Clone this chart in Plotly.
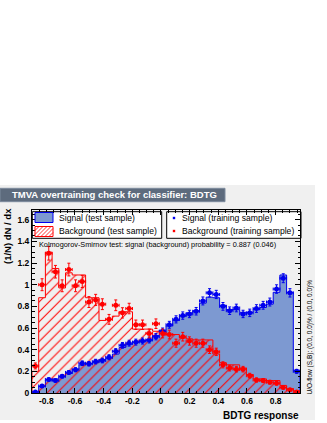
import numpy as np
import plotly.graph_objects as go

# ---------------- data ----------------
X_MIN, X_MAX, N_BINS = -0.9, 0.97, 40
Y_MAX = 1.69

signal_test = [0.01, 0.06, 0.12, 0.13, 0.15, 0.18, 0.22, 0.26, 0.27, 0.28,
               0.31, 0.32, 0.36, 0.42, 0.45, 0.47, 0.48, 0.49, 0.53, 0.58,
               0.62, 0.67, 0.71, 0.74, 0.76, 0.83, 0.885, 0.88, 0.81, 0.77,
               0.77, 0.745, 0.745, 0.77, 0.79, 0.82, 0.93, 1.09, 0.93, 0.21]
background_test = [0.20, 0.88, 1.30, 1.15, 0.97, 1.11, 1.09, 1.09, 0.88, 0.88,
                   0.67, 0.68, 0.71, 0.75, 0.75, 0.59, 0.59, 0.59, 0.57, 0.57,
                   0.54, 0.54, 0.51, 0.50, 0.49, 0.49, 0.49, 0.36, 0.28, 0.26,
                   0.26, 0.23, 0.17, 0.13, 0.13, 0.115, 0.115, 0.07, 0.04, 0.02]
signal_train = [0.01, 0.065, 0.125, 0.115, 0.155, 0.19, 0.215, 0.275, 0.27, 0.29,
                0.30, 0.33, 0.385, 0.44, 0.46, 0.47, 0.48, 0.49, 0.52, 0.57,
                0.63, 0.68, 0.715, 0.73, 0.755, 0.85, 0.925, 0.91, 0.80, 0.76,
                0.785, 0.73, 0.74, 0.78, 0.81, 0.84, 0.96, 1.06, 0.925, 0.20]
background_train = [0.25, 1.00, 1.29, 1.12, 0.99, 1.14, 0.99, 1.03, 0.84, 0.86,
                    0.82, 0.68, 0.81, 0.74, 0.78, 0.63, 0.63, 0.55, 0.64, 0.55,
                    0.54, 0.46, 0.52, 0.48, 0.46, 0.46, 0.40, 0.38, 0.26, 0.23,
                    0.22, 0.22, 0.16, 0.12, 0.115, 0.10, 0.09, 0.05, 0.03, 0.01]

# effective entries per unit density (sets statistical error bar size)
N_SIG_EFF = 625.0
N_BKG_EFF = 330.0

ks_signal, ks_background = 0.887, 0.046

x_tick_vals = [-0.8, -0.6, -0.4, -0.2, 0, 0.2, 0.4, 0.6, 0.8]
x_tick_text = ["-0.8", "-0.6", "-0.4", "-0.2", "0", "0.2", "0.4", "0.6", "0.8"]
y_tick_vals = [0, 0.2, 0.4, 0.6, 0.8, 1.0, 1.2, 1.4, 1.6]
y_tick_text = ["0", "0.2", "0.4", "0.6", "0.8", "1", "1.2", "1.4", "1.6"]

# ---------------- style ----------------
C_CANVAS = "#f0f0f0"
C_FRAME = "#fffffd"
C_TITLEBOX = "#5D6B7D"
C_TITLEBORDER = "#7D8B9D"
C_SIG_LINE = "#0000ee"
C_SIG_FILL = "#7d99d1"
C_BKG = "#ff0000"
FONT = "Liberation Sans, Arial, Helvetica, sans-serif"

W, H = 327, 423
ML, MR, MT, MB = 32, 27, 210, 30
PW, PH = W - ML - MR, H - MT - MB


def px(xp):
    return (xp - ML) / PW


def py(yp):
    return (H - MB - yp) / PH


bw = (X_MAX - X_MIN) / N_BINS
edges = X_MIN + bw * np.arange(N_BINS + 1)
centers = edges[:-1] + bw / 2


def step_xy(vals):
    vals = np.asarray(vals, dtype=float)
    xs = np.concatenate([[edges[0]], edges[:-1], [edges[-1], edges[-1]]])
    ys = np.concatenate([[0.0], vals, [vals[-1], 0.0]])
    return xs, ys


fig = go.Figure()

sx, sy = step_xy(signal_test)
fig.add_trace(go.Scatter(x=sx, y=sy, mode="lines", line=dict(color=C_SIG_LINE, width=1, shape="hv"),
                         fill="tozeroy", fillcolor=C_SIG_FILL, showlegend=False, hoverinfo="skip"))
bx, by = step_xy(background_test)
fig.add_trace(go.Scatter(x=bx, y=by, mode="lines", line=dict(color=C_BKG, width=1, shape="hv"),
                         fill="tozeroy", fillcolor=C_BKG,
                         fillpattern=dict(shape="/", fillmode="replace", fgcolor=C_BKG,
                                          bgcolor="rgba(0,0,0,0)", size=7, solidity=0.15),
                         showlegend=False, hoverinfo="skip"))

sig_err = np.sqrt(np.asarray(signal_train) / N_SIG_EFF)
bkg_err = np.sqrt(np.asarray(background_train) / N_BKG_EFF)

fig.add_trace(go.Scatter(x=centers, y=signal_train, mode="markers",
                         marker=dict(color=C_SIG_LINE, size=5, symbol="circle"),
                         error_y=dict(type="data", array=sig_err, color=C_SIG_LINE, thickness=1, width=1.5),
                         error_x=dict(type="constant", value=bw / 2, color=C_SIG_LINE, thickness=1, width=1.5),
                         showlegend=False))
fig.add_trace(go.Scatter(x=centers, y=background_train, mode="markers",
                         marker=dict(color=C_BKG, size=5, symbol="circle"),
                         error_y=dict(type="data", array=bkg_err, color=C_BKG, thickness=1, width=1.5),
                         error_x=dict(type="constant", value=bw / 2, color=C_BKG, thickness=1, width=1.5),
                         showlegend=False))

shapes = []
# canvas
shapes.append(dict(type="rect", xref="paper", yref="paper", layer="below",
                   x0=px(0), x1=px(315), y0=py(420), y1=py(185),
                   fillcolor=C_CANVAS, line=dict(width=0)))
# title box
shapes.append(dict(type="rect", xref="paper", yref="paper", layer="above",
                   x0=px(0), x1=px(225), y0=py(201.7), y1=py(188.3),
                   fillcolor=C_TITLEBOX, line=dict(color=C_TITLEBORDER, width=1)))
# legend boxes
for x0, x1 in [(32.3, 161.7), (166.7, 301)]:
    shapes.append(dict(type="rect", xref="x domain", yref="y domain", layer="below",
                       x0=px(x0), x1=px(x1), y0=py(238.3), y1=py(211.7),
                       fillcolor="white", line=dict(color="black", width=1)))
# legend icons
shapes.append(dict(type="rect", xref="paper", yref="paper", layer="above",
                   x0=px(35), x1=px(53), y0=py(222.5), y1=py(212.5),
                   fillcolor=C_SIG_FILL, line=dict(color=C_SIG_LINE, width=1)))
ix0, ix1, iy0, iy1 = 35.0, 53.0, 226.5, 236.5
hh = iy1 - iy0
segs = []
t = -hh
while t < (ix1 - ix0):
    xa = max(ix0, ix0 + t)
    xb = min(ix1, ix0 + t + hh)
    if xb > xa:
        ya = iy1 - (xa - (ix0 + t))
        yb = iy1 - (xb - (ix0 + t))
        segs.append(f"M {px(xa):.5f} {py(ya):.5f} L {px(xb):.5f} {py(yb):.5f}")
    t += 4.0
shapes.append(dict(type="path", xref="paper", yref="paper", layer="above",
                   path=" ".join(segs), line=dict(color=C_BKG, width=0.8)))
shapes.append(dict(type="rect", xref="paper", yref="paper", layer="above",
                   x0=px(ix0), x1=px(ix1), y0=py(iy1), y1=py(iy0),
                   line=dict(color=C_BKG, width=1)))
for cy, col in [(218, C_SIG_LINE), (231, C_BKG)]:
    shapes.append(dict(type="rect", xref="paper", yref="paper", layer="above",
                       x0=px(172.8), x1=px(175.2), y0=py(cy + 1.2), y1=py(cy - 1.2),
                       fillcolor=col, line=dict(width=0)))

annotations = [
    dict(text="<b>TMVA overtraining check for classifier: BDTG</b>", x=px(10), y=py(195),
         xanchor="left", yanchor="middle", font=dict(family=FONT, size=9.5, color="white")),
    dict(text="Signal (test sample)", x=px(57), y=py(217.5), xanchor="left", yanchor="middle",
         font=dict(family=FONT, size=8.6, color="black")),
    dict(text="Background (test sample)", x=px(57), y=py(231), xanchor="left", yanchor="middle",
         font=dict(family=FONT, size=8.6, color="black")),
    dict(text="Signal (training sample)", x=px(180), y=py(217.5), xanchor="left", yanchor="middle",
         font=dict(family=FONT, size=8.6, color="black")),
    dict(text="Background (training sample)", x=px(180), y=py(231), xanchor="left", yanchor="middle",
         font=dict(family=FONT, size=8.6, color="black")),
    dict(text=f"Kolmogorov-Smirnov test: signal (background) probability = {ks_signal:.3f} ({ks_background:.3f})",
         x=px(37), y=py(244.5), xanchor="left", yanchor="middle",
         font=dict(family=FONT, size=7.3, color="black")),
    dict(text="<b>(1/N) dN / dx</b>", textangle=-90, x=px(7.5), y=py(236.5),
         xanchor="center", yanchor="middle", font=dict(family=FONT, size=9.5, color="black")),
    dict(text="<b>BDTG response</b>", x=px(300.5), y=py(415), xanchor="right", yanchor="middle",
         font=dict(family=FONT, size=10, color="black")),
    dict(text="U/O-flow (S,B): (0.0, 0.0)% / (0.0, 0.0)%", textangle=-90, x=px(309.5), y=py(337),
         xanchor="center", yanchor="middle", font=dict(family=FONT, size=6.5, color="black")),
]
for a in annotations:
    a.update(xref="paper", yref="paper", showarrow=False)

fig.update_layout(
    width=W, height=H,
    margin=dict(l=ML, r=MR, t=MT, b=MB, pad=0),
    paper_bgcolor="white", plot_bgcolor=C_FRAME,
    showlegend=False,
    shapes=shapes, annotations=annotations,
    xaxis=dict(range=[X_MIN, X_MAX], showgrid=False, zeroline=False,
               showline=True, linecolor="black", linewidth=1, mirror="ticks",
               ticks="inside", ticklen=5, tickcolor="black", tickwidth=1,
               tickmode="array", tickvals=x_tick_vals, ticktext=x_tick_text,
               tickfont=dict(family=FONT, size=8.5, color="black", weight="bold"),
               minor=dict(ticks="inside", ticklen=2.5, tickcolor="black", tickmode="linear",
                          tick0=0, dtick=0.05, showgrid=False)),
    yaxis=dict(range=[0, Y_MAX], showgrid=False, zeroline=False,
               showline=True, linecolor="black", linewidth=1, mirror="ticks",
               ticks="inside", ticklen=5, tickcolor="black", tickwidth=1,
               tickmode="array", tickvals=y_tick_vals, ticktext=y_tick_text,
               tickfont=dict(family=FONT, size=8.5, color="black", weight="bold"),
               minor=dict(ticks="inside", ticklen=2.5, tickcolor="black", tickmode="linear",
                          tick0=0, dtick=0.05, showgrid=False)),
)

fig.write_html("out.html", config={"displayModeBar": False},
               post_script="document.body.style.margin='0';document.body.style.overflow='hidden';")
